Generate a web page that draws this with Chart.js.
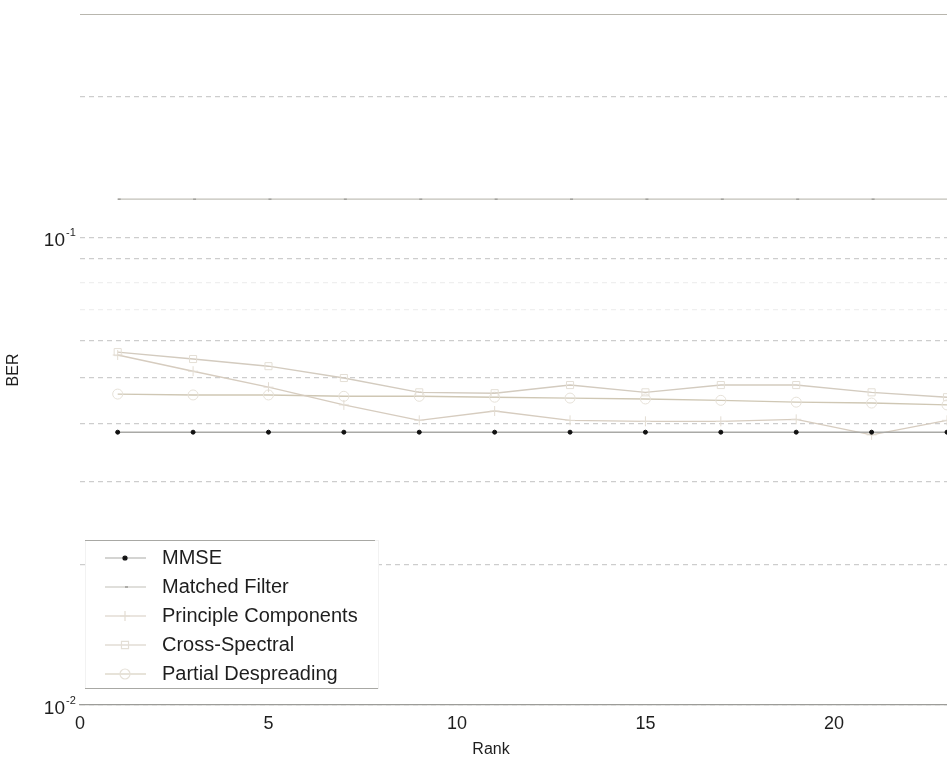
<!DOCTYPE html>
<html>
<head>
<meta charset="utf-8">
<title>BER vs Rank</title>
<script src="https://cdn.jsdelivr.net/npm/chart.js@4.4.1/dist/chart.umd.min.js"></script>
<style>
  html, body { margin: 0; padding: 0; background: #fff; overflow: hidden; }
  canvas { display: block; }
</style>
</head>
<body>
<canvas id="berChart" width="947" height="764"></canvas>
<script>
// rank values where each receiver was evaluated
const ranks = [1, 3, 5, 7, 9, 11, 13, 15, 17, 19, 21, 23];

// bit error rate per receiver
const mmseBer = [0.0383, 0.0383, 0.0383, 0.0383, 0.0383, 0.0383, 0.0383, 0.0383, 0.0383, 0.0383, 0.0383, 0.0383];
const matchedBer = [0.1206, 0.1206, 0.1206, 0.1206, 0.1206, 0.1206, 0.1206, 0.1206, 0.1206, 0.1206, 0.1206, 0.1206];
const principleBer = [0.0560, 0.0517, 0.0478, 0.0438, 0.0406, 0.0425, 0.0406, 0.0404, 0.0404, 0.0408, 0.0378, 0.0406];
const crossSpectralBer = [0.0568, 0.0549, 0.0530, 0.0500, 0.0466, 0.0464, 0.0483, 0.0466, 0.0483, 0.0483, 0.0466, 0.0455];
const partialBer = [0.0462, 0.0460, 0.0460, 0.0457, 0.0457, 0.0455, 0.0453, 0.0451, 0.0448, 0.0444, 0.0442, 0.0438];

// log grid lines and the labelled decades
const yGridValues = [0.01, 0.02, 0.03, 0.04, 0.05, 0.06, 0.07, 0.08, 0.09, 0.1, 0.2, 0.3];
const yDecades = [{ value: 0.1, exp: '-1' }, { value: 0.01, exp: '-2' }];

const FONT = '"Liberation Sans", Arial, sans-serif';

function toPoints(values) {
    return ranks.map((r, i) => ({ x: r, y: values[i] }));
}

// Draws the top frame line, the 10^n labels, both axis titles and the legend box
const plotDecor = {
    id: 'plotDecor',
    afterDraw(chart) {
        const ctx = chart.ctx;
        const area = chart.chartArea;
        const yScale = chart.scales.y;

        ctx.save();
        ctx.strokeStyle = '#b8b6ae';
        ctx.lineWidth = 1.2;
        ctx.beginPath();
        ctx.moveTo(area.left, area.top + 0.5);
        ctx.lineTo(area.right, area.top + 0.5);
        ctx.stroke();

        // decade labels with superscript exponent
        ctx.fillStyle = '#1e1e1e';
        yDecades.forEach(d => {
            const py = yScale.getPixelForValue(d.value);
            ctx.font = '19px ' + FONT;
            ctx.textAlign = 'right';
            ctx.textBaseline = 'middle';
            ctx.fillText('10', 65, py + 4);
            ctx.font = '11px ' + FONT;
            ctx.textAlign = 'left';
            ctx.fillText(d.exp, 66, py - 4);
        });

        // axis titles
        ctx.font = '16px ' + FONT;
        ctx.textAlign = 'center';
        ctx.textBaseline = 'middle';
        ctx.fillText('Rank', 491, 750);
        ctx.save();
        ctx.translate(14, 370);
        ctx.rotate(-Math.PI / 2);
        ctx.fillText('BER', 0, 0);
        ctx.restore();

        // legend
        const box = { left: 85, top: 540, right: 378, bottom: 688 };
        ctx.fillStyle = '#ffffff';
        ctx.fillRect(box.left, box.top, box.right - box.left, box.bottom - box.top);
        ctx.strokeStyle = '#f2f2f2';
        ctx.lineWidth = 1;
        ctx.strokeRect(box.left + 0.5, box.top + 0.5, box.right - box.left, box.bottom - box.top);
        ctx.strokeStyle = '#a8a8a4';
        ctx.lineWidth = 1.2;
        ctx.beginPath();
        ctx.moveTo(box.left, box.top + 0.5);
        ctx.lineTo(box.right - 3, box.top + 0.5);
        ctx.moveTo(box.left, box.bottom + 0.5);
        ctx.lineTo(box.right, box.bottom + 0.5);
        ctx.stroke();

        chart.data.datasets.forEach((ds, i) => {
            const rowY = 558 + i * 29;
            ctx.strokeStyle = ds.borderColor;
            ctx.lineWidth = 1.2;
            ctx.beginPath();
            ctx.moveTo(105, rowY);
            ctx.lineTo(146, rowY);
            ctx.stroke();
            ctx.strokeStyle = ds.pointBorderColor;
            ctx.fillStyle = ds.backgroundColor;
            Chart.helpers.drawPoint(ctx, {
                pointStyle: ds.pointStyle,
                radius: ds.pointRadius,
                borderWidth: 1
            }, 125, rowY);
            ctx.fillStyle = '#1e1e1e';
            ctx.font = '20px ' + FONT;
            ctx.textAlign = 'left';
            ctx.textBaseline = 'middle';
            ctx.fillText(ds.label, 162, rowY);
        });
        ctx.restore();
    }
};

const ctx = document.getElementById('berChart').getContext('2d');
const berChart = new Chart(ctx, {
    type: 'line',
    data: {
        datasets: [
            {
                label: 'MMSE',
                data: toPoints(mmseBer),
                borderColor: '#a9a9a6',
                backgroundColor: '#111111',
                pointBorderColor: '#111111',
                pointStyle: 'circle',
                pointRadius: 2
            },
            {
                label: 'Matched Filter',
                data: toPoints(matchedBer),
                borderColor: '#c2c0b8',
                backgroundColor: '#8a8a86',
                pointBorderColor: '#8a8a86',
                pointStyle: 'dash',
                pointRadius: 3
            },
            {
                label: 'Principle Components',
                data: toPoints(principleBer),
                borderColor: '#d6ccbf',
                backgroundColor: 'rgba(0,0,0,0)',
                pointBorderColor: '#e3ddd3',
                pointStyle: 'cross',
                pointRadius: 5
            },
            {
                label: 'Cross-Spectral',
                data: toPoints(crossSpectralBer),
                borderColor: '#d3cbbf',
                backgroundColor: 'rgba(0,0,0,0)',
                pointBorderColor: '#e4dfd6',
                pointStyle: 'rect',
                pointRadius: 5
            },
            {
                label: 'Partial Despreading',
                data: toPoints(partialBer),
                borderColor: '#cfc7b4',
                backgroundColor: 'rgba(0,0,0,0)',
                pointBorderColor: '#e6e1d8',
                pointStyle: 'circle',
                pointRadius: 5
            }
        ]
    },
    options: {
        responsive: false,
        animation: false,
        layout: {
            autoPadding: false,
            padding: { top: 14, right: 0, bottom: 0, left: 0 }
        },
        elements: {
            line: { borderWidth: 1.4, tension: 0 },
            point: { borderWidth: 1 }
        },
        plugins: {
            legend: { display: false },
            tooltip: { enabled: false }
        },
        scales: {
            x: {
                type: 'linear',
                min: 0,
                max: 23,
                afterFit(scale) {
                    // plot runs right to the canvas edge
                    scale.height = 59;
                    scale.paddingLeft = 0;
                    scale.paddingRight = 0;
                },
                grid: { drawOnChartArea: false, drawTicks: false },
                border: { display: true, color: '#9c9c98', width: 1.2 },
                ticks: {
                    stepSize: 5,
                    padding: 8,
                    color: '#1e1e1e',
                    font: { family: FONT, size: 18 },
                    callback: v => (v % 5 === 0 ? String(v) : '')
                },
                title: { display: false }
            },
            y: {
                type: 'logarithmic',
                min: 0.01,
                max: 0.3,
                afterFit(scale) {
                    scale.width = 80;
                    scale.paddingTop = 0;
                    scale.paddingBottom = 0;
                },
                afterBuildTicks(scale) {
                    scale.ticks = yGridValues.map(v => ({ value: v }));
                },
                grid: {
                    drawTicks: false,
                    color: c => {
                        const v = c.tick && c.tick.value;
                        if (v === 0.07 || v === 0.08) return '#efefef';
                        if (v === 0.3) return 'rgba(0,0,0,0)';
                        return '#cdcdcd';
                    },
                    lineWidth: 1.2
                },
                border: { display: false, dash: [5, 4] },
                ticks: {
                    display: true,
                    callback: () => ''
                },
                title: { display: false }
            }
        }
    },
    plugins: [plotDecor]
});
</script>
</body>
</html>
